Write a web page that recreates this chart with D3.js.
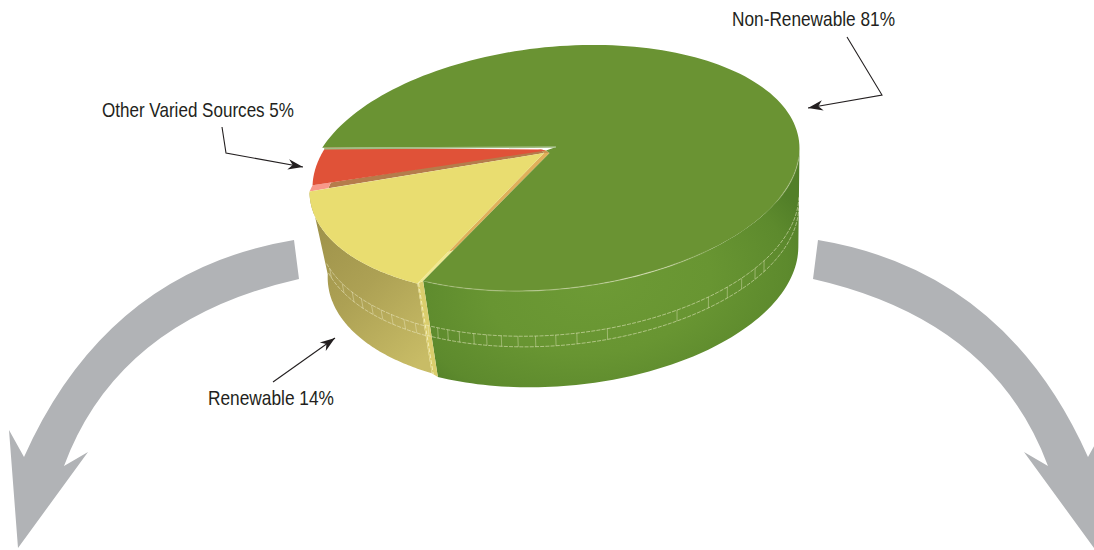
<!DOCTYPE html>
<html><head><meta charset="utf-8"><script src="https://cdn.jsdelivr.net/npm/d3@7"></script>
<style>html,body{margin:0;background:#fff}svg{display:block}text{font-family:"Liberation Sans",sans-serif;fill:#231f20}</style></head>
<body><svg id="c" width="1094" height="550"></svg>
<script>
const categories = ["Renewable", "Other Varied Sources", "Non-Renewable"];
const values = [14, 5, 81];
const labelTexts = ["Renewable 14%", "Other Varied Sources 5%", "Non-Renewable 81%"];
const topColors = ["#e9dd70", "#e05238", "#6a9333"];
const greenBandTicks = [124.8,122.2,119.5,116.5,112.8,109.6,106,102,97.8,93,88,80.7,63,54,48,43,37.8,33.9];
const yellowBandTicks = [165,157,152,148,144,140.5,137,133,129.6];

const svg = d3.select("#c");
const defs = svg.append("defs");
const rad = d => d*Math.PI/180;

function ell(E, t){
  const a=rad(t), u=E.a*Math.cos(a), v=E.b*Math.sin(a), p=rad(E.tilt);
  return [E.cx+u*Math.cos(p)+v*Math.sin(p), E.cy-u*Math.sin(p)+v*Math.cos(p)];
}
const topE = {cx:554.5, cy:168, a:246, b:121, tilt:6};
const botE = {cx:559, cy:262, a:240, b:124, tilt:5};
const shift = (E,dx,dy)=>({...E,cx:E.cx+dx,cy:E.cy+dy});
const mix = (A,B,f)=>({cx:A.cx+(B.cx-A.cx)*f,cy:A.cy+(B.cy-A.cy)*f,a:A.a+(B.a-A.a)*f,b:A.b+(B.b-A.b)*f,tilt:A.tilt+(B.tilt-A.tilt)*f});

const arcs = d3.pie().sort(null).value(d=>d).startAngle(0).endAngle(2*Math.PI)(values);
const warp = d3.scaleLinear()
  .domain([0, arcs[0].endAngle, arcs[1].endAngle, 2*Math.PI])
  .range([125.4, 181, 201.5, 485.4]);
const T = arcs.map(d=>[warp(d.startAngle), warp(d.endAngle)]);

const line = d3.line();
const sweep = (E,t0,t1,n=80)=>d3.range(n+1).map(i=>ell(E,t0+(t1-t0)*i/n));
const lerp=(a,b,f)=>[a[0]+(b[0]-a[0])*f,a[1]+(b[1]-a[1])*f];

function userGrad(id,x1,y1,x2,y2,stops){
  const g=defs.append("linearGradient").attr("id",id).attr("gradientUnits","userSpaceOnUse")
    .attr("x1",x1).attr("y1",y1).attr("x2",x2).attr("y2",y2);
  stops.forEach(s=>g.append("stop").attr("offset",s[0]).attr("stop-color",s[1]).attr("stop-opacity",s[2]===undefined?1:s[2]));
}
const rg=defs.append("radialGradient").attr("id","gw").attr("gradientUnits","userSpaceOnUse")
  .attr("cx",0).attr("cy",0).attr("r",1)
  .attr("gradientTransform","translate(600,285) rotate(-8) scale(222,135)");
[[0,"#6d9a35"],[.5,"#689532"],[.85,"#5d8a2d"],[1,"#527f28"]].forEach(s=>rg.append("stop").attr("offset",s[0]).attr("stop-color",s[1]));
userGrad("yw",312,210,435,350,[[0,"#9c9049"],[.5,"#ada154"],[1,"#c8bc66"]]);
userGrad("hl",421,0,800,0,[[0,"#e6e3bf",.3],[.47,"#e6e8c8",.45],[.58,"#e6e8c8",.75],[.71,"#e6e8c8",.3],[.79,"#e6e8c8",0],[.93,"#e6e8c8",0],[.96,"#e6e8c8",.4],[1,"#e6e8c8",.3]]);

function flowArrow(m){
  const X=x=>m?1112-x:x, p=d3.path();
  p.moveTo(X(294),240); p.quadraticCurveTo(X(107),271,X(24),457);
  p.lineTo(X(9),430); p.lineTo(X(18),548); p.lineTo(X(88),452); p.lineTo(X(64),466);
  p.quadraticCurveTo(X(118),320,X(299),279); p.closePath();
  return p.toString();
}
svg.append("path").attr("d",flowArrow(false)).attr("fill","#b1b3b6");
svg.append("path").attr("d",flowArrow(true)).attr("fill","#b1b3b6");

// walls
const yTop=shift(topE,0,4), yBot=shift(botE,8,0);
const yFront=T[0][0]+1.6, yEnd=T[0][1]+2;
const gBotEnd=123, yBotEnd=127;
const gWall=[...sweep(topE,T[0][0],3),...sweep(botE,3,gBotEnd)];
svg.append("path").attr("d",line(gWall)+"Z").attr("fill","url(#gw)");
const yWall=[...sweep(yTop,yFront,yEnd),...sweep(yBot,184,yBotEnd)];
svg.append("path").attr("d",line(yWall)+"Z").attr("fill","url(#yw)");
const yb=ell(yBot,yBotEnd), gb=ell(botE,gBotEnd);
const cutFace=[ell(yTop,yFront),ell(topE,T[0][0]),gb,yb];
svg.append("path").attr("d",line(cutFace)+"Z").attr("fill","#dacd6c");

function band(E0,E1,t0,t1,ticks){
  const A=mix(E0,E1,.47),B=mix(E0,E1,.58);
  [A,B].forEach(E=>svg.append("path").attr("d",line(sweep(E,t0,t1))).attr("fill","none").attr("stroke","#f4f1d0").attr("stroke-opacity",.65).attr("stroke-width",.8).attr("stroke-dasharray","4 1.2"));
  svg.append("g").selectAll("path").data(ticks).join("path").attr("d",t=>line([ell(A,t),ell(B,t)])).attr("stroke","#f4f1d0").attr("stroke-opacity",.55).attr("stroke-width",.7);
}
band(topE,botE,T[0][0],4,greenBandTicks);
band(yTop,yBot,yFront,168,yellowBandTicks);
svg.append("path").attr("d",line([lerp(ell(yTop,yFront),cutFace[1],.2),lerp(yb,gb,.25)])).attr("stroke","#f7f3c4").attr("stroke-width",.8).attr("stroke-dasharray","4 2").attr("fill","none");

// top faces
const gTip=[556,147], gNotch=[546,150.5], gApex=[549.5,153], rApex=[541,149.5], yApex=[544,153];
const rE=shift(topE,3,0);
const gEdge2=ell(topE,T[2][1]);
const rStart=T[1][0]+3;
const yL=ell(yTop,yEnd), yF=ell(yTop,yFront), rL=ell(rE,rStart);

function strip(a0,a1,b0,b1,f0,f1,c){
  svg.append("path").attr("d",line([lerp(a0,a1,f0),lerp(a0,a1,f1),lerp(b0,b1,f1),lerp(b0,b1,f0)])+"Z").attr("fill",c);
}
svg.append("path").attr("d",line([rApex,gNotch,gApex,yApex])+"Z").attr("fill","#c99650");
strip(yApex,yF,gApex,gEdge2,0,.76,"#dfb05a");
strip(yApex,yF,gApex,gEdge2,.76,1,"#f1e890");
strip(yApex,yL,rApex,rL,0,.92,"#b57c4b");
strip(yApex,yL,rApex,rL,.92,1,"#f8998a");

svg.append("path").attr("d",line([gApex,gNotch,gTip,...sweep(topE,T[2][0],T[2][1],160)])+"Z").attr("fill",topColors[2]);
svg.append("path").attr("d",line([rApex,gNotch,...sweep(rE,rStart,T[1][1])])+"Z").attr("fill",topColors[1]);
svg.append("path").attr("d",line([yApex,...sweep(yTop,yEnd,yFront)])+"Z").attr("fill",topColors[0]);

svg.append("path").attr("d",line(sweep(topE,T[0][0]-1,8))).attr("fill","none").attr("stroke","url(#hl)").attr("stroke-width",1.2);

const g1=ell(topE,T[2][0]);
svg.append("path").attr("d",line([[g1[0]+2,g1[1]+.8],gTip])).attr("stroke","#a2bd84").attr("stroke-width",1.6).attr("fill","none");

// labels and leaders
const head=(p,q)=>{
  const a=Math.atan2(q[1]-p[1],q[0]-p[0]);
  const r=([x,y])=>[q[0]+x*Math.cos(a)-y*Math.sin(a),q[1]+x*Math.sin(a)+y*Math.cos(a)];
  return line([[0,0],[-15,-5.2],[-10.5,0],[-15,5.2]].map(r))+"Z";
};
const leaders=[
 [[273,382],[335,338]],
 [[222,127],[226,153],[303,167]],
 [[847,37],[882,95],[808,108]]
];
const labelPos=[[208,405],[102,117],[732,26]];
const labelWidths=[126,192,163];
const sel=svg.append("g");
leaders.forEach((pts,i)=>{
  sel.append("path").attr("d",line(pts)).attr("fill","none").attr("stroke","#231f20").attr("stroke-width",1.1);
  sel.append("path").attr("d",head(pts[pts.length-2],pts[pts.length-1])).attr("fill","#231f20");
  sel.append("text").attr("x",labelPos[i][0]).attr("y",labelPos[i][1]).attr("font-size",21)
    .attr("textLength",labelWidths[i]).attr("lengthAdjust","spacingAndGlyphs").text(labelTexts[i]);
});
</script></body></html>
